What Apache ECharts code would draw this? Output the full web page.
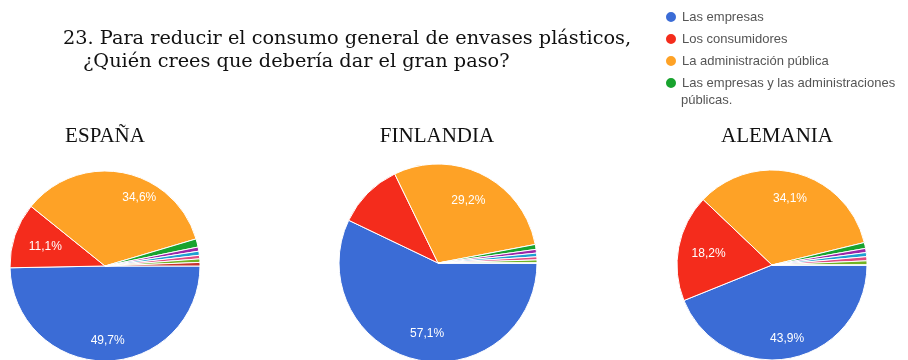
<!DOCTYPE html>
<html>
<head>
<meta charset="utf-8">
<script src="https://cdn.jsdelivr.net/npm/echarts@6/dist/echarts.min.js"></script>
<style>html,body{margin:0;padding:0;background:#fff;}#c{width:908px;height:360px;}</style>
</head>
<body>
<div id="c"></div>
<script>
// Categories (first four appear in legend; the rest are tiny slices)
var categories = ["Las empresas", "Los consumidores", "La administración pública", "Las empresas y las administraciones públicas.", "Otra 1", "Otra 2", "Otra 3", "Otra 4", "Otra 5"];
var legendNames = categories.slice(0, 4);
var countries = ["ESPAÑA", "FINLANDIA", "ALEMANIA"];
// Percent values
var spainValues   = [49.7, 11.1, 34.6, 1.4, 0.7, 0.7, 0.6, 0.6, 0.6];
var finlandValues = [57.1, 10.7, 29.2, 0.8, 0.6, 0.6, 0.5, 0.5, 0.0];
var germanyValues = [43.9, 18.2, 34.1, 1.0, 0.7, 0.7, 0.7, 0.7, 0.0];
var titleLine1 = "23. Para reducir el consumo general de envases plásticos,";
var titleLine2 = "¿Quién crees que debería dar el gran paso?";

var colors = ['#3b6cd6', '#f42c1c', '#fea226', '#18a32e', '#9c27a8', '#1ea0d2', '#e04a82', '#72b324', '#c8342e'];

// layout / style per pie (not data)
var pies = [
  {values: spainValues,   center: [105, 266], r: 95, nudge: [[2, 1], [10, 5], [20, 4]]},
  {values: finlandValues, center: [438, 263], r: 99, nudge: [[6, -4], [0, 0], [-4, 6]]},
  {values: germanyValues, center: [772, 265], r: 95, nudge: [[1, 1], [9, 3], [-1, 5]]}
];
var titleX = [100, 432, 772];

function mkSeries(p) {
  var k = 0.73 / 0.5;
  return {
    type: 'pie',
    center: p.center,
    radius: [0, p.r],
    startAngle: 0,
    clockwise: true,
    avoidLabelOverlap: false,
    silent: true,
    itemStyle: {borderColor: '#fff', borderWidth: 1},
    label: {
      show: true,
      position: 'inside',
      color: '#fff',
      fontSize: 12,
      fontFamily: 'Liberation Sans, Arial, sans-serif',
      formatter: function (q) { return q.value >= 11 ? String(q.value).replace('.', ',') + '%' : ''; }
    },
    labelLine: {show: false},
    labelLayout: function (prm) {
      var lr = prm.labelRect;
      var lx = lr.x + lr.width / 2, ly = lr.y + lr.height / 2;
      var n = p.nudge[prm.dataIndex] || [0, 0];
      return {dx: (lx - p.center[0]) * (k - 1) + n[0], dy: (ly - p.center[1]) * (k - 1) + n[1]};
    },
    data: categories.map(function (n, i) { return {name: n, value: p.values[i]}; })
  };
}

var serifTitle = {fontFamily: 'DejaVu Serif', fontWeight: 'normal', fontSize: 19.3, color: '#111'};
var titles = [
  {text: titleLine1, left: 58, top: 24, textStyle: serifTitle},
  {text: titleLine2, left: 78, top: 47, textStyle: serifTitle}
];
countries.forEach(function (c, i) {
  titles.push({text: c, left: titleX[i], top: 121, textAlign: 'center',
    textStyle: {fontFamily: 'Liberation Serif', fontWeight: 'normal', fontSize: 21, color: '#111'}});
});

var chart = echarts.init(document.getElementById('c'), null, {renderer: 'canvas'});
chart.setOption({
  animation: false,
  color: colors,
  title: titles,
  legend: {
    orient: 'vertical',
    left: 659,
    top: 4,
    icon: 'circle',
    itemWidth: 12,
    itemHeight: 12,
    itemGap: 6,
    selectedMode: false,
    textStyle: {fontSize: 13, color: '#555', fontFamily: 'Liberation Sans, Arial, sans-serif', lineHeight: 16},
    data: legendNames,
    formatter: function (n) { return n === legendNames[3] ? 'Las empresas y las administraciones' : n; }
  },
  graphic: [{
    type: 'text', left: 681, top: 94,
    style: {text: 'públicas.', fontSize: 13, fill: '#555', fontFamily: 'Liberation Sans, Arial, sans-serif'}
  }],
  series: pies.map(mkSeries)
});
</script>
</body>
</html>
